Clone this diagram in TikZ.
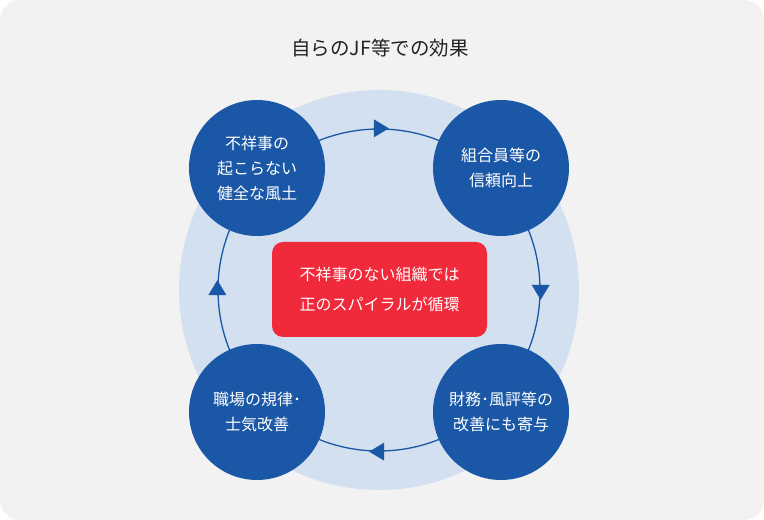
\documentclass[tikz,border=0pt]{standalone}
\usepackage{fontspec}
\setmainfont{Noto Sans CJK JP}
\usetikzlibrary{shapes.geometric}
\definecolor{panelgray}{HTML}{F2F2F2}
\definecolor{paleblue}{HTML}{D3E0EF}
\definecolor{deepblue}{HTML}{1A58A7}
\definecolor{alertred}{HTML}{F02A3B}
\definecolor{titlegray}{HTML}{222222}

\begin{document}
\begin{tikzpicture}[x=1pt, y=1pt,
    stage/.style={circle, fill=deepblue, minimum size=136pt, inner sep=0pt, text=white,
        align=center, font=\fontsize{16}{25}\selectfont},
    pointer/.style={isosceles triangle, isosceles triangle stretches, fill=deepblue,
        minimum height=15pt, minimum width=18pt, inner sep=0pt}]
            \useasboundingbox (0, 0) rectangle (764, 520);
            \fill[panelgray, rounded corners=20pt] (0, 0) rectangle (764, 520);
            \node[circle, fill=paleblue, minimum size=400pt, inner sep=0pt] (halo) at (379, 230) {};
            \node[circle, draw=deepblue, line width=1.3pt, minimum size=322pt, inner sep=0pt] (ring) at (379, 230) {};
            \node[pointer, shape border rotate=0] (arrowtop) at (ring.north) {};
            \node[pointer, shape border rotate=-90] (arrowright) at (ring.east) {};
            \node[pointer, shape border rotate=180] (arrowbottom) at (ring.south) {};
            \node[pointer, shape border rotate=90] (arrowleft) at (ring.west) {};
            \node[stage] (culture) at (257, 352) {不祥事の\\起こらない\\健全な風土};
            \node[stage] (trust) at (501, 352) {組合員等の\\信頼向上};
            \node[stage] (finance) at (501, 108) {財務･風評等の\\改善にも寄与};
            \node[stage] (morale) at (257, 108) {職場の規律･\\士気改善};
            \node[fill=alertred, rounded corners=11pt, minimum width=215pt, minimum height=95pt,
                text=white, align=center, font=\fontsize{16}{30}\selectfont] (spiral) at (379.5, 230.5)
                {不祥事のない組織では\\正のスパイラルが循環};
            \node[text=titlegray, font=\fontsize{19.5}{22}\selectfont] (title) at (380, 472) {自らのJF等での効果};
        \end{tikzpicture}
\end{document}
